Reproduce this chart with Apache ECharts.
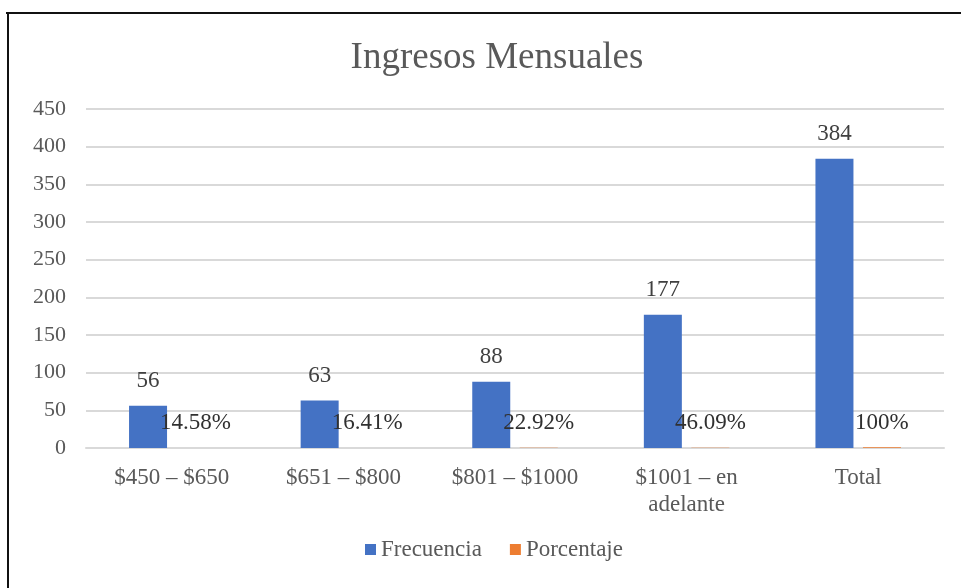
<!DOCTYPE html>
<html><head><meta charset="utf-8">
<script src="https://cdn.jsdelivr.net/npm/echarts@6/dist/echarts.min.js"></script>
<style>html,body{margin:0;padding:0;background:#fff}#c{width:961px;height:588px}</style>
</head><body><div id="c"></div>
<script>
const categories = ['$450 – $650', '$651 – $800', '$801 – $1000', '$1001 – en\nadelante', 'Total'];
const frecuencia = [56, 63, 88, 177, 384];
const porcentaje = [0.1458, 0.1641, 0.2292, 0.4609, 1.0];
const porcentajeLabels = ['14.58%', '16.41%', '22.92%', '46.09%', '100%'];
const yTicks = [0, 50, 100, 150, 200, 250, 300, 350, 400, 450];

const font = 'Liberation Serif';
const chart = echarts.init(document.getElementById('c'));
chart.setOption({
  backgroundColor: '#fff',
  animation: false,
  title: {
    text: 'Ingresos Mensuales', left: 492, top: 35, textAlign: 'center',
    textStyle: { fontFamily: font, fontSize: 37, fontWeight: 'normal', color: '#595959' }
  },
  graphic: [
    { type: 'line', shape: { x1: 6, y1: 13, x2: 961, y2: 13 }, style: { stroke: '#111', lineWidth: 2 } },
    { type: 'line', shape: { x1: 8, y1: 13, x2: 8, y2: 588 }, style: { stroke: '#111', lineWidth: 2 } }
  ],
  legend: {
    bottom: 22, left: 360, itemWidth: 11, itemHeight: 11, itemGap: 28,
    icon: 'rect',
    textStyle: { fontFamily: font, fontSize: 23, color: '#595959' },
    data: ['Frecuencia', 'Porcentaje']
  },
  grid: { left: 86, right: 17, top: 109, bottom: 140 },
  xAxis: {
    type: 'category', data: categories,
    axisLine: { show: true, lineStyle: { color: '#d9d9d9', width: 2 } },
    axisTick: { show: false },
    axisLabel: { fontFamily: font, fontSize: 23, color: '#595959', margin: 16, lineHeight: 27 }
  },
  yAxis: {
    type: 'value', min: 0, max: 450, interval: 50,
    axisLine: { show: false }, axisTick: { show: false },
    splitLine: { lineStyle: { color: '#d9d9d9', width: 2 } },
    axisLabel: { fontFamily: font, fontSize: 22, color: '#595959', margin: 20,
      formatter: v => yTicks.includes(v) ? String(v) : '' }
  },
  series: [
    {
      name: 'Frecuencia', type: 'bar', data: frecuencia, barWidth: 38, barGap: '25%',
      itemStyle: { color: '#4472C4' },
      label: { show: true, position: 'top', distance: 13, fontFamily: font, fontSize: 23, color: '#404040' }
    },
    {
      name: 'Porcentaje', type: 'bar', data: porcentaje, barWidth: 38,
      itemStyle: { color: '#ED7D31' },
      label: { show: true, position: 'top', distance: 13, fontFamily: font, fontSize: 23, color: '#303030',
        formatter: p => porcentajeLabels[p.dataIndex] }
    }
  ]
});
</script></body></html>
